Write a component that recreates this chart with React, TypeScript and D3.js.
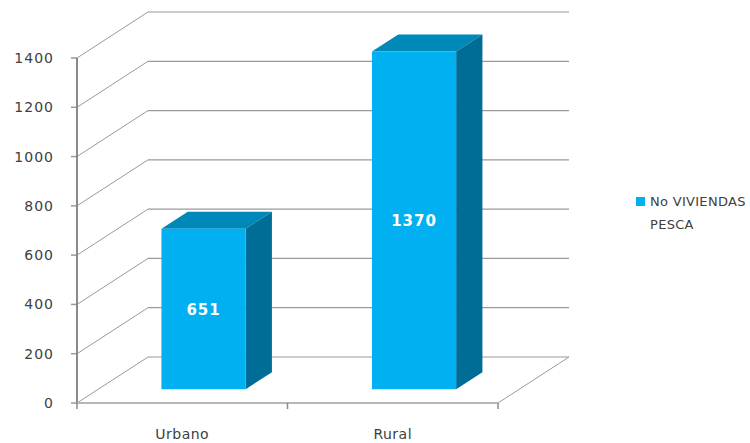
import React from "react";
import * as d3 from "d3";

const categories = ["Urbano", "Rural"];
const values = [651, 1370];
const seriesName = ["No VIVIENDAS", "PESCA"];
const yTicks = [0, 200, 400, 600, 800, 1000, 1200, 1400];

export default function App() {
  const W = 750, H = 443;
  // front plane geometry
  const x0 = 77, x1 = 498, yBase = 403;
  const depthX = 71, depthY = -46;
  const plotH = 345;
  const y = d3.scaleLinear().domain([0, 1400]).range([0, plotH]);
  const xb = d3.scaleBand().domain(categories).range([x0, x1]).paddingInner(0.6).paddingOuter(0.3);
  const xc = d3.scaleBand().domain(categories).range([x0, x1]);
  const zF = 0.3, zB = 0.67;
  const P = (x: number, v: number, z: number): [number, number] => [x + depthX * z, yBase - y(v) + depthY * z];
  const pts = (arr: [number, number][]) => arr.map((p) => p.join(",")).join(" ");
  const gridColor = "#9a9a9a";
  const textColor = "#404040";
  const font = "'DejaVu Sans', Verdana, sans-serif";

  return (
    <svg width={W} height={H} style={{ display: "block", position: "absolute", left: 0, top: 0 }}>
      <rect width={W} height={H} fill="#fff" />
      {/* back wall grid + left wall diagonals */}
      {yTicks.map((t) => {
        const a = P(x0, t, 0), b = P(x0, t, 1), c = P(x1, t, 1);
        return (
          <g key={t}>
            <line x1={a[0]} y1={a[1]} x2={b[0]} y2={b[1]} stroke={gridColor} strokeWidth={1} />
            <line x1={b[0]} y1={b[1]} x2={c[0]} y2={c[1]} stroke={gridColor} strokeWidth={1.2} />
            <line x1={x0 - 6} y1={a[1]} x2={x0} y2={a[1]} stroke={gridColor} strokeWidth={1.5} />
            <text x={54} y={a[1] + 5} textAnchor="end" fontFamily={font} fontSize={14} letterSpacing={1} fill={textColor}>{t}</text>
          </g>
        );
      })}
      {/* floor right diagonal */}
      {(() => {
        const a = P(x1, 0, 0), b = P(x1, 0, 1);
        return <line x1={a[0]} y1={a[1]} x2={b[0]} y2={b[1]} stroke={gridColor} strokeWidth={1} />;
      })()}
      {/* vertical axis */}
      <line x1={x0} y1={yBase - y(1400)} x2={x0} y2={yBase + 1} stroke="#8a8a8a" strokeWidth={2} />
      {/* bars */}
      {categories.map((c, i) => {
        const v = values[i];
        const l = xb(c)!, r = l + xb.bandwidth();
        const f1 = P(l, 0, zF), f2 = P(r, 0, zF), f3 = P(r, v, zF), f4 = P(l, v, zF);
        const b2 = P(r, 0, zB), b3 = P(r, v, zB), b4 = P(l, v, zB);
        return (
          <g key={c}>
            <polygon points={pts([f4, f3, b3, b4])} fill="#0088B9" />
            <polygon points={pts([f2, b2, b3, f3])} fill="#006D97" />
            <polygon points={pts([f1, f2, f3, f4])} fill="#00B0F0" />
            <text x={(f1[0] + f2[0]) / 2} y={(f1[1] + f4[1]) / 2 + 6} textAnchor="middle" fontFamily={font} fontWeight="bold" fontSize={15} letterSpacing={1} fill="#fff">{v}</text>
          </g>
        );
      })}
      {/* floor front line */}
      <line x1={x0} y1={yBase} x2={x1} y2={yBase} stroke="#b8b8b8" strokeWidth={2} />
      {[x0, ...categories.map((c) => xc(c)! + xc.bandwidth())].map((x, i) => (
        <line key={i} x1={x} y1={yBase} x2={x} y2={yBase + 6} stroke="#8a8a8a" strokeWidth={1.5} />
      ))}
      {categories.map((c) => (
        <text key={c} x={xc(c)! + xc.bandwidth() / 2} y={439} textAnchor="middle" fontFamily={font} fontSize={14} letterSpacing={0.5} fill={textColor}>{c}</text>
      ))}
      {/* legend */}
      <rect x={636} y={197} width={9} height={9} fill="#00B0F0" />
      <text x={650} y={206} fontFamily={font} fontSize={13} letterSpacing={0.3} fill={textColor}>{seriesName[0]}</text>
      <text x={650} y={229} fontFamily={font} fontSize={13} letterSpacing={0.3} fill={textColor}>{seriesName[1]}</text>
    </svg>
  );
}
